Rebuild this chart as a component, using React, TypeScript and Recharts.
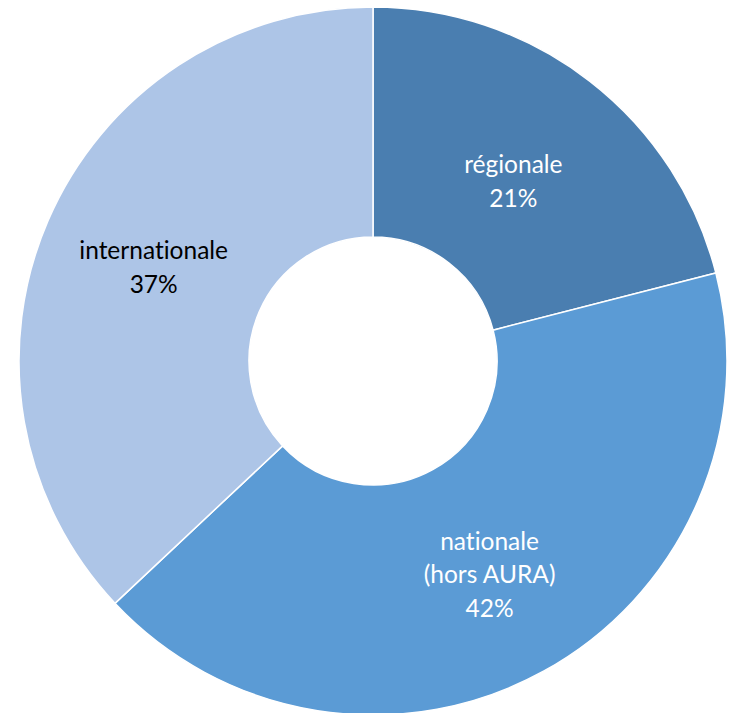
import React from "react";
import { PieChart, Pie, Cell } from "recharts";

const categories = ["régionale", "nationale\n(hors AURA)", "internationale"];
const values = [21, 42, 37];
const colors = ["#4A7EB0", "#5B9BD5", "#ADC5E7"];
const labelColors = ["#FFFFFF", "#FFFFFF", "#000000"];
// small radial nudges of each label relative to the ring's mid radius
const labelRadiusShift = [-10, 3, 0];

const data = categories.map((name, i) => ({ name, value: values[i] }));

const RAD = Math.PI / 180;

const renderLabel = (props: any) => {
  const { cx, cy, midAngle, innerRadius, outerRadius, index, value } = props;
  const r = (innerRadius + outerRadius) / 2 + labelRadiusShift[index];
  const x = cx + r * Math.cos(-midAngle * RAD);
  const y = cy + r * Math.sin(-midAngle * RAD);
  const lines = [...categories[index].split("\n"), `${value}%`];
  const lh = 33.5;
  const y0 = y - ((lines.length - 1) * lh) / 2;
  return (
    <text
      x={x}
      y={y0}
      fill={labelColors[index]}
      textAnchor="middle"
      dominantBaseline="central"
      fontFamily="Lato, 'Open Sans', sans-serif"
      fontSize={24.5}
      style={{ fontVariantLigatures: "none" }}
    >
      {lines.map((l, i) => (
        <tspan key={i} x={x} y={y0 + i * lh}>
          {l}
        </tspan>
      ))}
    </text>
  );
};

export default function App() {
  return (
    <div style={{ position: "absolute", left: 0, top: 0, background: "#fff" }}>
      <PieChart width={730} height={713} margin={{ top: 0, right: 0, bottom: 0, left: 0 }}>
        <Pie
          data={data}
          dataKey="value"
          cx={373}
          cy={361}
          innerRadius={124}
          outerRadius={354}
          startAngle={90}
          endAngle={-270}
          stroke="#FFFFFF"
          strokeWidth={1.5}
          label={renderLabel}
          labelLine={false}
          isAnimationActive={false}
        >
          {data.map((d, i) => (
            <Cell key={i} fill={colors[i]} />
          ))}
        </Pie>
      </PieChart>
    </div>
  );
}
